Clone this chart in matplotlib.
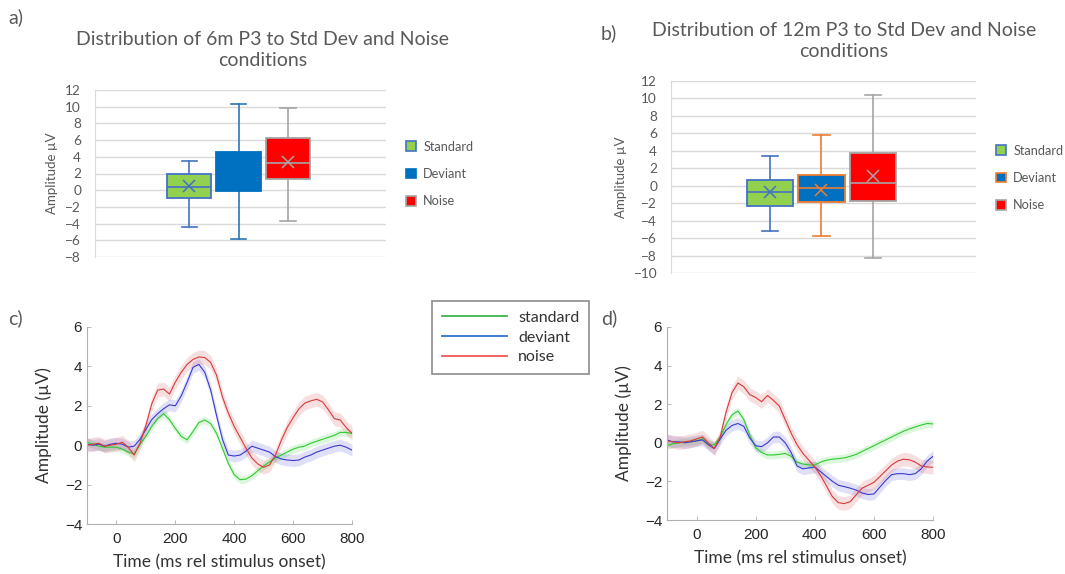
import numpy as np
import matplotlib
matplotlib.use('Agg')
import matplotlib.pyplot as plt
from matplotlib.patches import Patch
from matplotlib.lines import Line2D

plt.rcParams['font.family'] = ['Lato', 'DejaVu Sans']

# ── box plot summaries (a: 6 months, b: 12 months) ──
conditions = ['Standard', 'Deviant', 'Noise']
a_whislo = [-4.4, -5.9, -3.7]
a_q1     = [-0.9, -0.05, 1.3]
a_med    = [0.4, 2.0, 3.2]
a_q3     = [2.0, 4.6, 6.2]
a_whishi = [3.5, 10.3, 9.8]
a_mean   = [0.5, 2.3, 3.4]

b_whislo = [-5.2, -5.8, -8.3]
b_q1     = [-2.3, -1.9, -1.7]
b_med    = [-0.7, -0.3, 0.3]
b_q3     = [0.6, 1.2, 3.8]
b_whishi = [3.4, 5.8, 10.4]
b_mean   = [-0.7, -0.5, 1.1]

# ── ERP waveforms (uV), sampled every 20 ms from -100 to 800 ms ──
time_ms = np.arange(-100, 801, 20)

c_standard = [0.15, 0.05, -0.05, -0.1, -0.1, -0.1, -0.2, -0.35, -0.45, 0.05,
              0.45, 0.95, 1.35, 1.6, 1.3, 0.85, 0.45, 0.27, 0.7, 1.15,
              1.28, 1.1, 0.6, -0.15, -0.93, -1.5, -1.75, -1.72, -1.55, -1.3,
              -1.05, -0.85, -0.65, -0.5, -0.35, -0.2, -0.1, -0.04, 0.1, 0.2,
              0.3, 0.4, 0.5, 0.65, 0.65, 0.6]
c_deviant = [0.05, 0.0, 0.05, -0.05, 0.05, 0.1, 0.05, -0.1, -0.05, 0.3,
             0.8, 1.3, 1.6, 1.85, 2.05, 2.0, 2.5, 3.2, 3.95, 4.1,
             3.7, 2.8, 1.5, 0.3, -0.5, -0.55, -0.5, -0.3, -0.05, -0.15,
             -0.25, -0.35, -0.58, -0.7, -0.75, -0.78, -0.75, -0.6, -0.5, -0.35,
             -0.25, -0.15, -0.05, 0.0, -0.1, -0.25]
c_noise = [0.0, 0.05, 0.1, -0.05, 0.0, 0.05, 0.15, -0.1, -0.5, 0.1,
           1.0, 2.1, 2.8, 2.85, 2.6, 3.2, 3.7, 4.1, 4.35, 4.48,
           4.45, 4.2, 3.55, 2.45, 1.63, 0.95, 0.4, -0.15, -0.65, -0.95,
           -1.12, -1.0, -0.5, 0.25, 0.9, 1.4, 1.85, 2.14, 2.25, 2.33,
           2.2, 1.8, 1.35, 1.28, 0.9, 0.6]

d_standard = [-0.15, -0.05, 0.0, 0.05, 0.05, 0.1, 0.2, -0.1, -0.1, 0.3,
              0.95, 1.45, 1.65, 1.2, 0.4, -0.25, -0.5, -0.63, -0.63, -0.6,
              -0.55, -0.7, -1.0, -1.1, -1.15, -1.15, -1.0, -0.9, -0.85, -0.82,
              -0.78, -0.7, -0.6, -0.45, -0.3, -0.15, 0.0, 0.15, 0.3, 0.45,
              0.6, 0.72, 0.82, 0.92, 1.0, 0.98]
d_deviant = [0.15, 0.05, 0.05, 0.0, 0.05, 0.1, 0.15, -0.1, -0.3, 0.2,
             0.65, 0.9, 1.0, 0.85, 0.25, -0.15, -0.2, 0.0, 0.3, 0.3,
             0.0, -0.5, -1.2, -1.35, -1.3, -1.25, -1.5, -1.75, -2.0, -2.2,
             -2.27, -2.35, -2.45, -2.6, -2.68, -2.65, -2.3, -1.95, -1.65, -1.6,
             -1.6, -1.65, -1.6, -1.35, -0.95, -0.7]
d_noise = [0.1, 0.05, 0.0, 0.05, 0.1, 0.2, 0.3, 0.0, -0.3, 0.3,
           1.6, 2.6, 3.1, 2.9, 2.5, 2.35, 2.13, 2.45, 2.2, 1.9,
           1.2, 0.5, -0.1, -0.55, -0.9, -1.25, -1.7, -2.25, -2.8, -3.1,
           -3.15, -3.05, -2.7, -2.35, -2.2, -2.05, -1.75, -1.45, -1.15, -0.95,
           -0.85, -0.88, -1.0, -1.2, -1.25, -1.27]

# standard error half-widths of the shaded bands
c_se = [0.2, 0.3, 0.35]
d_se = [0.2, 0.3, 0.35]

erp_labels = ['standard', 'deviant', 'noise']
erp_colors = ['#2ecc2e', '#3a3ad0', '#d83a3a']
legend_colors = ['#3cb44b', '#2f6fd0', '#f05555']

box_fill = ['#92D050', '#0070C0', '#FF0000']
a_edge = ['#4472C4', '#0070C0', '#A5A5A5']
a_whisk = ['#4472C4', '#2E75B6', '#A5A5A5']
b_edge = ['#4472C4', '#ED7D31', '#A5A5A5']

TXT = '#595959'
W, H = 1065, 574

fig = plt.figure(figsize=(W / 100, H / 100), dpi=100)


def box_panel(rect, lo, q1, med, q3, hi, mean, edges, whisk, ylim, title, tx, ty):
    ax = fig.add_axes(rect)
    stats = [dict(whislo=lo[i], q1=q1[i], med=med[i], q3=q3[i], whishi=hi[i],
                  mean=mean[i], fliers=[], label=conditions[i]) for i in range(3)]
    res = ax.bxp(stats, positions=[1, 2, 3], widths=0.9, capwidths=0.32,
                 showmeans=True, patch_artist=True, showfliers=False)
    for i in range(3):
        res['boxes'][i].set(facecolor=box_fill[i], edgecolor=edges[i], linewidth=1.3, zorder=3)
        res['medians'][i].set(color=edges[i], linewidth=1.2, zorder=4)
        res['means'][i].set(marker='x', markeredgecolor=edges[i], markersize=8,
                            markeredgewidth=1.1, zorder=5)
        for ln in res['whiskers'][2 * i:2 * i + 2] + res['caps'][2 * i:2 * i + 2]:
            ln.set(color=whisk[i], linewidth=1.2, zorder=2)
    ax.set_xlim(-0.92, 5.0)
    ax.set_ylim(*ylim)
    ax.set_yticks(range(ylim[0], ylim[1] + 1, 2))
    ax.yaxis.grid(True, color='#D9D9D9', linewidth=1.0, zorder=0)
    ax.set_axisbelow(True)
    ax.set_xticks([])
    for s in ['top', 'right', 'bottom']:
        ax.spines[s].set_visible(False)
    ax.spines['left'].set_color('#D9D9D9')
    ax.tick_params(axis='y', length=0, labelsize=9.8, labelcolor=TXT, pad=10)
    ax.set_ylabel('Amplitude µV', fontsize=9.5, color=TXT, labelpad=5)
    fig.text(tx / W, 1 - ty / H, title, ha='center', va='center', fontsize=14.0,
             color=TXT, linespacing=1.25)
    handles = [Patch(facecolor=box_fill[i], edgecolor=edges[i], linewidth=1.2,
                     label=conditions[i]) for i in range(3)]
    return ax, handles


def box_legend(ax, handles, x, y):
    ax.legend(handles=handles, loc='center left', bbox_to_anchor=(x / W, 1 - y / H),
              bbox_transform=fig.transFigure, frameon=False, fontsize=9.2, labelcolor=TXT,
              handlelength=0.8, handleheight=0.8, handletextpad=0.55, labelspacing=1.2,
              borderpad=0, borderaxespad=0)


axa, ha = box_panel([95 / W, 1 - 257 / H, 291 / W, 167 / H], a_whislo, a_q1, a_med, a_q3,
                    a_whishi, a_mean, a_edge, a_whisk, (-8, 12),
                    'Distribution of 6m P3 to Std Dev and Noise\nconditions', 263, 50)
box_legend(axa, ha, 406, 174)

axb, hb = box_panel([671 / W, 1 - 273 / H, 305 / W, 192 / H], b_whislo, b_q1, b_med, b_q3,
                    b_whishi, b_mean, b_edge, b_edge, (-10, 12),
                    'Distribution of 12m P3 to Std Dev and Noise\nconditions', 844, 41)
box_legend(axb, hb, 996, 178)


def erp_panel(rect, series, se):
    ax = fig.add_axes(rect)
    for y, s, col in zip(series, se, erp_colors):
        y = np.asarray(y)
        ax.fill_between(time_ms, y - s, y + s, color=col, alpha=0.16, linewidth=0)
        ax.plot(time_ms, y, color=col, linewidth=0.8)
    ax.set_xlim(-100, 800)
    ax.set_ylim(-4, 6)
    ax.set_xticks(range(0, 801, 200))
    ax.set_yticks(range(-4, 7, 2))
    for s in ['top', 'right']:
        ax.spines[s].set_visible(False)
    for s in ['left', 'bottom']:
        ax.spines[s].set_color('#B0B0B0')
        ax.spines[s].set_linewidth(0.8)
    ax.tick_params(direction='in', length=3, width=0.6, color='#B0B0B0',
                   labelsize=11, labelcolor='#262626')
    ax.tick_params(axis='x', pad=6)
    for lab in ax.get_xticklabels() + ax.get_yticklabels():
        lab.set_fontfamily(['Liberation Sans', 'DejaVu Sans'])
    ax.set_xlabel('Time (ms rel stimulus onset)', fontsize=12.5, color='#333333', labelpad=6)
    ax.set_ylabel('Amplitude (µV)', fontsize=12.5, color='#333333', labelpad=9)
    return ax


axc = erp_panel([87 / W, 1 - 524 / H, 265 / W, 197 / H],
                [c_standard, c_deviant, c_noise], c_se)
axd = erp_panel([667 / W, 1 - 520 / H, 266 / W, 193 / H],
                [d_standard, d_deviant, d_noise], d_se)

lh = [Line2D([], [], color=c, linewidth=1.3, label=l) for c, l in zip(legend_colors, erp_labels)]
leg = fig.legend(handles=lh, loc='upper left', bbox_to_anchor=(432 / W, 1 - 301 / H),
                 fontsize=11.5, handlelength=4.1, handletextpad=0.7, labelspacing=0.35,
                 borderpad=0.6, borderaxespad=0, fancybox=False, labelcolor='#333333')
leg.get_frame().set_edgecolor('#707070')
leg.get_frame().set_linewidth(1.2)

for lbl, x, y in [('a)', 16, 17), ('b)', 609, 33), ('c)', 15, 318), ('d)', 609, 318)]:
    fig.text(x / W, 1 - y / H, lbl, ha='center', va='center', fontsize=14, color=TXT)

fig.savefig('out.png', dpi=100)
